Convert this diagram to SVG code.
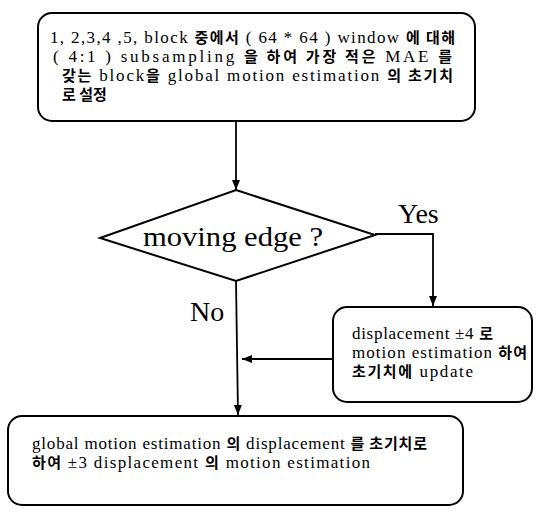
<svg xmlns="http://www.w3.org/2000/svg" width="536" height="514" viewBox="0 0 536 514">
<style>
.box{fill:#fff;stroke:#000;stroke-width:2}
.ln{fill:none;stroke:#000;stroke-width:1.8}
.t{font-family:"Liberation Serif","Noto Sans CJK KR",serif;font-size:17px;fill:#000}
.k{font-family:"Noto Sans CJK KR",sans-serif;font-weight:700;font-size:15px}
.big{font-family:"Liberation Serif",serif;font-size:28px;fill:#000}
</style>
<defs>
<marker id="ah" viewBox="0 0 10 10" refX="10" refY="5" markerWidth="10" markerHeight="10" markerUnits="userSpaceOnUse" orient="auto">
<path d="M0,1 L10,5 L0,9 Z" fill="#000"/>
</marker>
</defs>
<rect width="536" height="514" fill="#fff"/>
<g id="connectors">
<line class="ln" x1="236" y1="121" x2="236" y2="190" marker-end="url(#ah)"/>
<polyline class="ln" points="375,234 433,234 433,306" marker-end="url(#ah)"/>
<line class="ln" x1="333" y1="359" x2="242" y2="359" marker-end="url(#ah)"/>
<line class="ln" x1="236" y1="281" x2="238" y2="415" marker-end="url(#ah)"/>
<text class="big" x="398" y="223">Yes</text>
<text class="big" x="190" y="321">No</text>
</g>
<g id="init">
<rect class="box" x="38" y="13" width="437" height="108" rx="14"/>
<text class="t" x="50" y="43" textLength="405" lengthAdjust="spacing">1, 2,3,4 ,5, block <tspan class="k">중에서</tspan> ( 64 * 64 ) window <tspan class="k">에 대해</tspan></text>
<text class="t" x="53" y="62" textLength="399" lengthAdjust="spacing">( 4:1 ) subsampling <tspan class="k">을 하여  가장 적은</tspan> MAE <tspan class="k">를</tspan></text>
<text class="t" x="62" y="81" textLength="391" lengthAdjust="spacing"><tspan class="k">갖는</tspan> block<tspan class="k">을</tspan> global  motion  estimation <tspan class="k">의 초기치</tspan></text>
<text class="t" x="62" y="100"><tspan class="k">로 설정</tspan></text>
</g>
<g id="decision">
<polygon class="box" points="236,190 375,235 236,281 100,238"/>
<text class="big" x="143" y="246" textLength="180" lengthAdjust="spacingAndGlyphs">moving edge ?</text>
</g>
<g id="update">
<rect class="box" x="333" y="307" width="199" height="95" rx="14"/>
<text class="t" x="352" y="339" textLength="141" lengthAdjust="spacing">displacement ±4 <tspan class="k">로</tspan></text>
<text class="t" x="352" y="358" textLength="175" lengthAdjust="spacing">motion  estimation <tspan class="k">하여</tspan></text>
<text class="t" x="352" y="377" textLength="121" lengthAdjust="spacing"><tspan class="k">초기치에</tspan> update</text>
</g>
<g id="global">
<rect class="box" x="8" y="416" width="455" height="89" rx="14"/>
<text class="t" x="32" y="449" textLength="395" lengthAdjust="spacing">global  motion  estimation <tspan class="k">의</tspan> displacement <tspan class="k">를 초기치로</tspan></text>
<text class="t" x="32" y="468" textLength="338" lengthAdjust="spacing"><tspan class="k">하여</tspan>  ±3 displacement <tspan class="k">의</tspan>  motion  estimation</text>
</g>
</svg>
